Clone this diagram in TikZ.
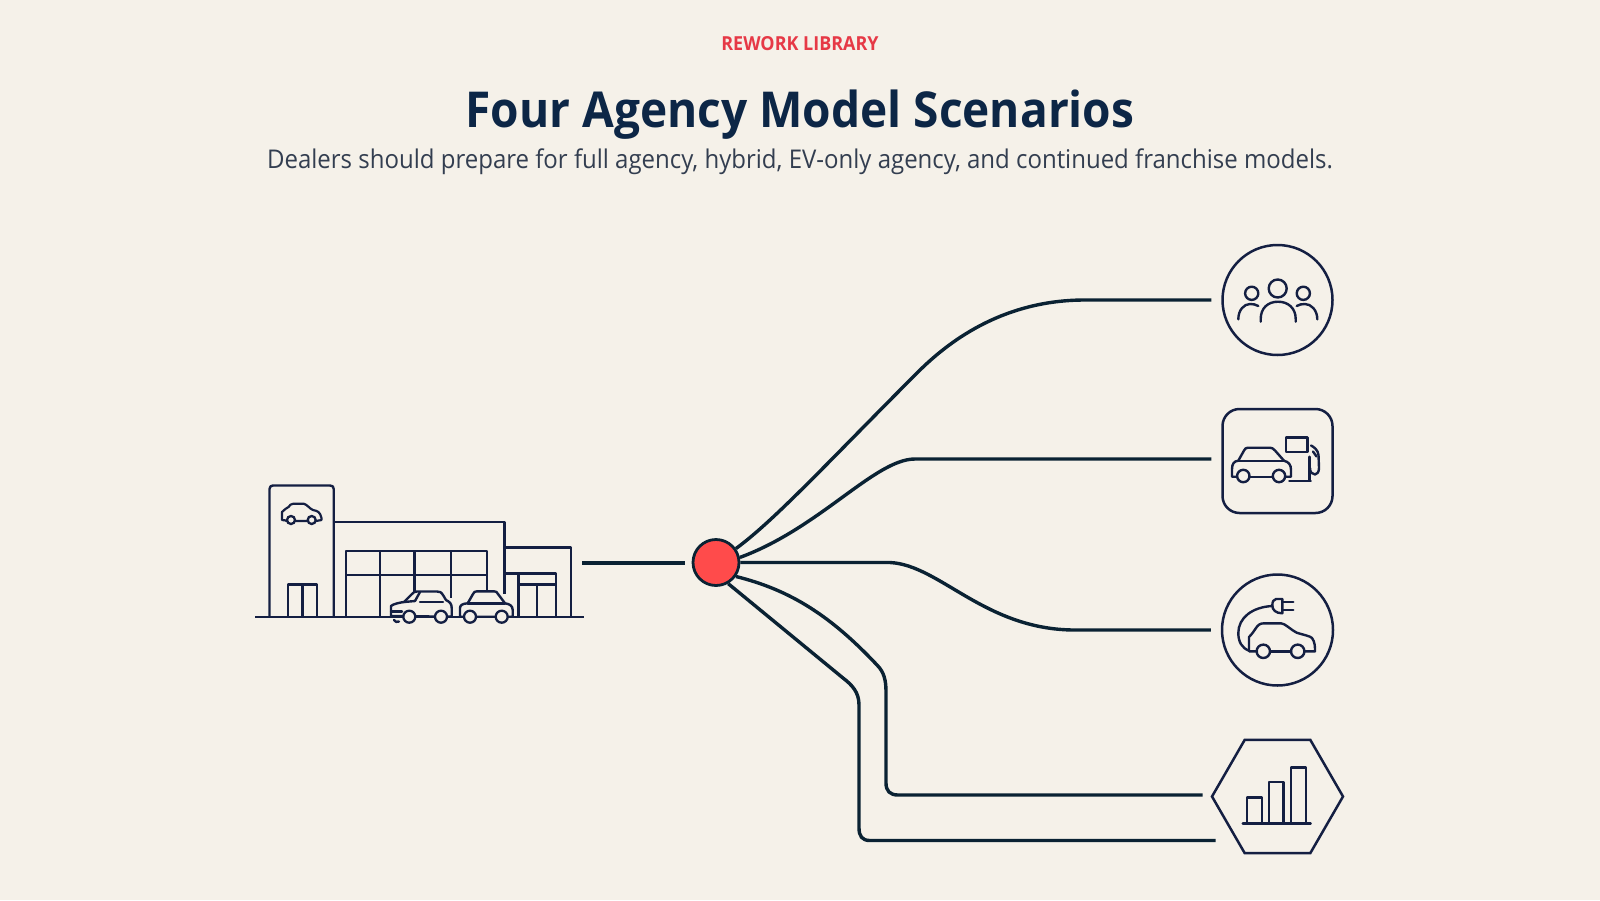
\documentclass[tikz,border=0pt]{standalone}
\usepackage{fontspec}
\setmainfont{Open Sans}
\newfontfamily\headfont[FakeStretch=0.93]{Open Sans}
\usetikzlibrary{shapes.geometric}
\definecolor{paper}{HTML}{F5F1E9}
\definecolor{inkline}{HTML}{0A2233}
\definecolor{iconline}{HTML}{141F42}
\definecolor{hubred}{HTML}{FF4B4B}
\definecolor{titleblue}{HTML}{0C2646}
\definecolor{tagred}{HTML}{E63946}
\definecolor{subgrey}{HTML}{333E50}
\tikzset{
  link/.style={draw=inkline,line width=3.4pt,line join=round},
  icon/.style={draw=iconline,line width=2.4pt,line join=round,line cap=round},
  thin icon/.style={icon,line width=2.2pt},
  badge/.style={draw=iconline,line width=2.5pt,inner sep=0pt,fill=paper},
  wheel/.style={draw=iconline,line width=2.3pt,fill=paper},
}
\begin{document}
\begin{tikzpicture}[x=1pt,y=-1pt]
\useasboundingbox (0,0) rectangle (1600,900);
\fill[paper] (0,0) rectangle (1600,900);

% Heading
\node (tag) at (800,44) {\headfont\fontsize{19.3}{22}\selectfont\bfseries\color{tagred}REWORK LIBRARY};
\node (title) at (800,114.5) {\headfont\fontsize{49.5}{58}\selectfont\bfseries\color{titleblue}Four Agency Model Scenarios};
\node (sub) at (800,162) {\headfont\fontsize{25.8}{32}\selectfont\color{subgrey}Dealers should prepare for full agency, hybrid, EV-only agency, and continued franchise models.};

% Hub and scenario badges
\node[circle,draw=inkline,line width=2.8pt,fill=hubred,minimum size=46pt,inner sep=0pt] (hub) at (716,562.5) {};
\node[badge,circle,minimum size=110pt] (people) at (1277.5,300) {};
\node[badge,rounded corners=17pt,minimum width=110pt,minimum height=104pt] (fuel) at (1277.5,461) {};
\node[badge,circle,minimum size=111pt] (ev) at (1277.5,630) {};
\node[badge,regular polygon,regular polygon sides=6,minimum size=131pt] (bars) at (1277.5,796.5) {};
\coordinate (shopout) at (582,563);

% Connectors
\draw[link] (shopout) -- ([xshift=-7pt]hub.west |- shopout);
\draw[link] (hub.35) .. controls (775,520) and (830,460) .. (918,372)
  .. controls (960,330) and (1015,300) .. (1085,300) -- ([xshift=-10pt]people.west);
\draw[link] (hub.12) .. controls (820,528) and (875,459) .. (915,459)
  -- ([xshift=-10pt]fuel.west |- 0,459);
\draw[link] (hub.east) -- (890,562.5) .. controls (940,565) and (985,630) .. (1075,630)
  -- ([xshift=-10pt]ev.west);
\draw[link] (hub.-35) .. controls (790,590) and (830,615) .. (877,665)
  .. controls (884,672) and (886,680) .. (886,692) -- (886,783)
  .. controls (886,791) and (890,795) .. (898,795) -- ([xshift=-8pt]bars.west |- 0,795);
\draw[link] (hub.-60) -- (843,678) .. controls (852,685) and (859,692) .. (859,705) -- (859,828)
  .. controls (859,836) and (862,840.5) .. (870,840.5) -- ([shift={(5pt,-44pt)}]bars.west);

% Dealership building
\begin{scope}[icon,line cap=butt]
  \draw (269.5,617) -- (269.5,489) .. controls (269.5,486.5) and (271,485.5) .. (273,485.5)
    -- (330,485.5) .. controls (332.5,485.5) and (333.7,486.5) .. (333.7,489) -- (333.7,617);
  \draw (333.7,522) -- (504.3,522) -- (504.3,594);
  \draw (504.3,547.3) -- (571,547.3) -- (571,617);
  \draw (504.3,573.3) -- (556,573.3) -- (556,617);
  \draw (518.3,573.3) -- (518.3,617);
  \draw (518.3,584.3) -- (556,584.3);
  \draw (536.7,584.3) -- (536.7,617);
  \draw (346,617) -- (346,550.7) -- (487,550.7) -- (487,591);
  \draw (346,574.7) -- (487,574.7);
  \draw (380,550.7) -- (380,617);
  \draw (414.3,550.7) -- (414.3,592);
  \draw (450.7,550.7) -- (450.7,598);
  \draw (287.7,617) -- (287.7,584.3) -- (317,584.3) -- (317,617);
  \draw (302.3,584.3) -- (302.3,617);
  \draw (255,616.8) -- (584,616.8);
\end{scope}

% Car on the tower
\draw[thin icon,fill=paper] (286,520.5) -- (282,520) -- (282,512) .. controls (284,509) and (287,508.5) .. (288.5,507)
  .. controls (290,505) and (291,503.8) .. (293,503.8) -- (304,503.8)
  .. controls (307,504.5) and (310,509) .. (313,510) .. controls (318,511) and (320,512) .. (321.5,518)
  -- (321.5,520) -- (316,521) -- (286,521) -- cycle;
\draw[wheel] (291,520) circle (4pt);
\draw[wheel] (311.7,520) circle (4pt);

% Front car
\draw[icon,fill=paper] (391,616) -- (391,606) .. controls (393,604) and (400,602.5) .. (404,602)
  -- (412,594) .. controls (413.5,592) and (415,591.5) .. (417,591.5) -- (437,591.5)
  .. controls (440,591.5) and (441,592) .. (443,595) -- (446,600)
  .. controls (450,602) and (451.7,604) .. (451.7,608) -- (451.7,616.7) -- cycle;
\draw[icon] (420,592) -- (415,601);
\draw[icon] (404,602) -- (415,601);
\draw[icon] (420,602.2) -- (443,602.2);
\draw[icon] (391,611.5) -- (402,611.5);
\draw[icon] (394,620) .. controls (395,622) and (397,622.5) .. (399,621.5);
\draw[wheel] (409.3,616.7) circle (6pt);
\draw[wheel] (441,616.7) circle (6pt);

% Rear car
\draw[icon,fill=paper] (460,616.7) -- (460,608) .. controls (460,605) and (463,603.5) .. (467.7,603.3)
  -- (473,594) .. controls (474,592) and (475,591.3) .. (477,591.3) -- (494,591.3)
  .. controls (496,591.3) and (497,592) .. (498,594) -- (505,603.3)
  .. controls (510,604) and (512.7,606) .. (512.7,610) -- (512.7,616.7) -- cycle;
\draw[icon] (467.7,603.3) -- (505,603.3);
\draw[wheel] (470,616.7) circle (6pt);
\draw[wheel] (501.7,616.7) circle (6pt);

% Group of people
\draw[icon] (1277.7,288.5) circle (9pt);
\draw[icon] (1251.7,293.3) circle (6.6pt);
\draw[icon] (1303.3,293.3) circle (6.6pt);
\draw[icon] (1260.7,321.7) -- (1260.7,319) .. controls (1260.7,308) and (1268,301.7) .. (1278,301.7)
  .. controls (1288,301.7) and (1295.7,308) .. (1295.7,319) -- (1295.7,321.7);
\draw[icon] (1238.3,319.3) .. controls (1238.3,310) and (1244,304) .. (1250,304) .. controls (1253,304) and (1256,304.5) .. (1258.3,306);
\draw[icon] (1317.3,319.3) .. controls (1317.3,310) and (1311,304) .. (1305,304) .. controls (1302,304) and (1299,304.5) .. (1296.7,306);

% Car at a fuel pump
\draw[icon] (1237,476.7) -- (1232,476.7) -- (1232,469) .. controls (1232,464) and (1234,461) .. (1238.3,460.7)
  -- (1244,450.5) .. controls (1245,448.5) and (1246,447.7) .. (1248,447.7) -- (1270,447.7)
  .. controls (1272,447.7) and (1273,448.5) .. (1275,450.5) -- (1284,460.7)
  .. controls (1289,462) and (1291,465) .. (1291,470) -- (1291,476.7) -- (1285,476.7);
\draw[icon] (1238.3,460.7) -- (1284,460.7);
\draw[icon] (1249.5,476.7) -- (1273,476.7);
\draw[icon] (1243.3,476) circle (6.2pt);
\draw[icon] (1279,476) circle (6.2pt);
\draw[icon] (1286,437.3) rectangle (1307.3,451.7);
\draw[icon] (1309.3,456.7) -- (1309.3,480.7);
\draw[icon] (1289.3,480.7) -- (1310.7,480.7);
\draw[icon] (1311,445.5) .. controls (1314,447) and (1318,450) .. (1318.5,455) -- (1319,468)
  .. controls (1319,472) and (1317,474.5) .. (1315,474.5) .. controls (1312,474.5) and (1310,472) .. (1310,468);
\draw[icon] (1313,451.5) -- (1316.5,456.5);

% Electric car with plug
\draw[icon] (1282.3,599) -- (1276,599) .. controls (1273.5,599) and (1272.3,602) .. (1272.3,605.5)
  .. controls (1272.3,610) and (1276,613.3) .. (1282.3,613.3) -- cycle;
\draw[icon] (1282.3,601.7) -- (1293.3,601.7);
\draw[icon] (1282.3,610) -- (1293.3,610);
\draw[icon] (1272.3,606) .. controls (1252,607) and (1238.3,618) .. (1238.3,633)
  .. controls (1238.3,642) and (1242,648) .. (1249,650.7);
\draw[icon] (1257,651.3) -- (1249,651.3) -- (1249,637) .. controls (1252,634) and (1254,631) .. (1256,628)
  .. controls (1258,625) and (1260,623.3) .. (1264,623.3) -- (1281,623.3)
  .. controls (1285,623.3) and (1291,630) .. (1296.7,632.7) .. controls (1304,635) and (1310,636) .. (1312,638)
  .. controls (1315,642) and (1315,647) .. (1315,651.3) -- (1304.4,651.3);
\draw[icon] (1270,651.3) -- (1291,651.3);
\draw[icon] (1263.3,651.3) circle (6.7pt);
\draw[icon] (1297.7,651.3) circle (6.7pt);

% Bar chart
\draw[icon] (1242.7,823.3) -- (1310.7,823.3);
\draw[icon] (1246.7,823.3) -- (1246.7,797.3) -- (1261.7,797.3) -- (1261.7,823.3);
\draw[icon] (1269,823.3) -- (1269,781.7) -- (1283.3,781.7) -- (1283.3,823.3);
\draw[icon] (1290.7,823.3) -- (1290.7,767.3) -- (1306,767.3) -- (1306,823.3);
\end{tikzpicture}
\end{document}
